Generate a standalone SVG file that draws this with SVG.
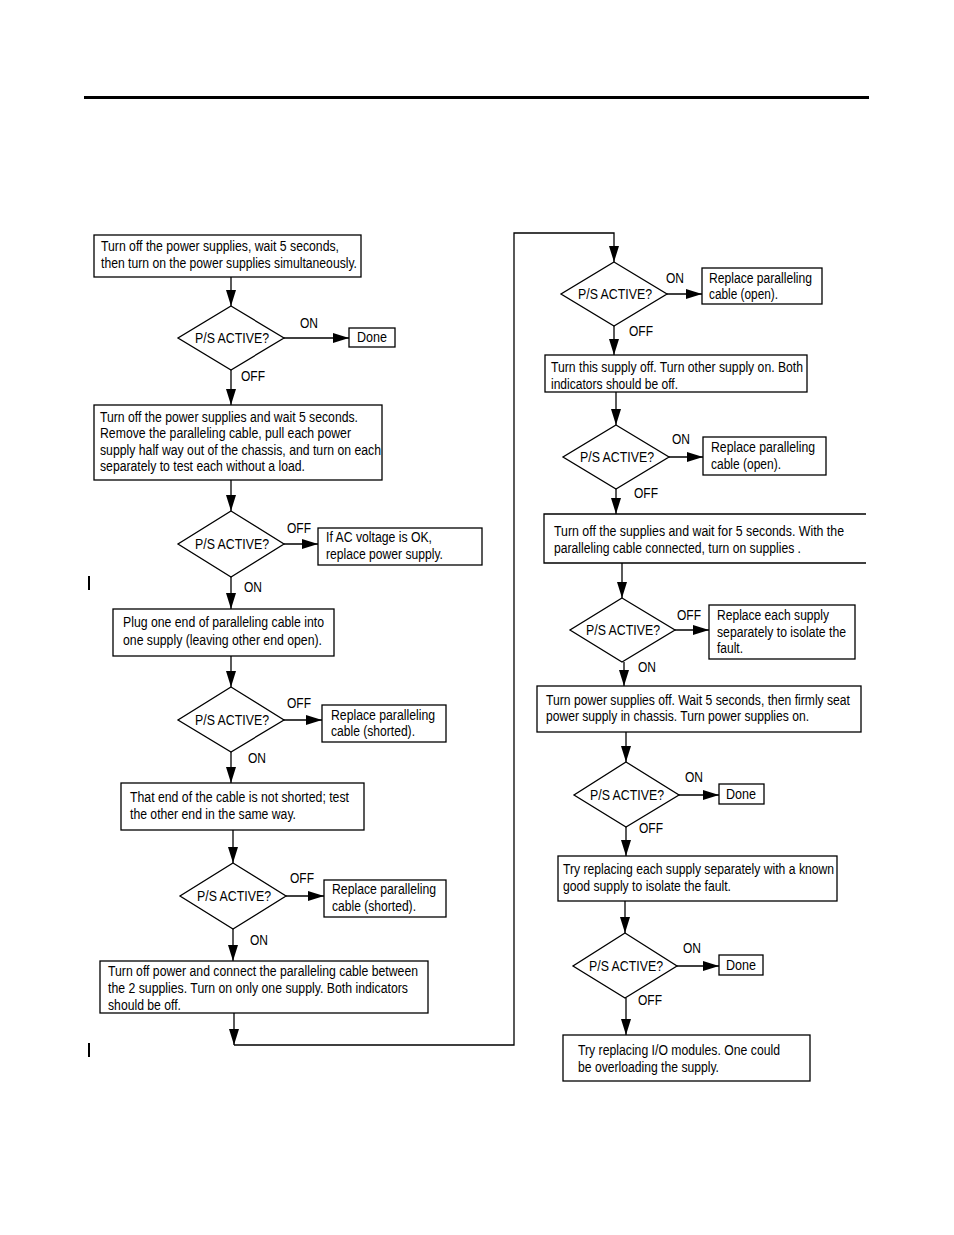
<svg xmlns="http://www.w3.org/2000/svg" width="954" height="1235" viewBox="0 0 954 1235">
<style>
.bx{fill:#fff;stroke:#000;stroke-width:1.3}
.dm{fill:#fff;stroke:#000;stroke-width:1.3}
.ln{fill:none;stroke:#000;stroke-width:1.3}
text{font-family:"Liberation Sans",Arial,sans-serif;font-size:14px;fill:#000}
.c{text-anchor:middle}
</style>
<defs>
<marker id="ah" markerUnits="userSpaceOnUse" markerWidth="16" markerHeight="10" refX="16" refY="5" orient="auto">
<path d="M0,0 L16,5 L0,10 z" fill="#000"/>
</marker>
</defs>
<rect x="84" y="96" width="785" height="3" fill="#000"/>
<rect x="88" y="576" width="2" height="14" fill="#000"/>
<rect x="88" y="1043" width="2" height="14" fill="#000"/>

<g id="connectors">
<path class="ln" d="M231,277 V306" marker-end="url(#ah)"/>
<path class="ln" d="M284,338 H349" marker-end="url(#ah)"/>
<path class="ln" d="M231,370 V405" marker-end="url(#ah)"/>
<path class="ln" d="M231,480 V511" marker-end="url(#ah)"/>
<path class="ln" d="M284,544 H318" marker-end="url(#ah)"/>
<path class="ln" d="M231,577 V609" marker-end="url(#ah)"/>
<path class="ln" d="M231,656 V687" marker-end="url(#ah)"/>
<path class="ln" d="M284,720 H322" marker-end="url(#ah)"/>
<path class="ln" d="M231,752 V783" marker-end="url(#ah)"/>
<path class="ln" d="M233,830 V863" marker-end="url(#ah)"/>
<path class="ln" d="M286,896 H324" marker-end="url(#ah)"/>
<path class="ln" d="M233,929 V961" marker-end="url(#ah)"/>
<path class="ln" d="M234,1013 V1045" marker-end="url(#ah)"/>
<path class="ln" d="M234,1045 H514 V233 H614 V262" marker-end="url(#ah)"/>
<path class="ln" d="M667,294 H702" marker-end="url(#ah)"/>
<path class="ln" d="M614,326 V355" marker-end="url(#ah)"/>
<path class="ln" d="M616,392 V425" marker-end="url(#ah)"/>
<path class="ln" d="M669,457 H703" marker-end="url(#ah)"/>
<path class="ln" d="M616,489 V514" marker-end="url(#ah)"/>
<path class="ln" d="M622,563 V598" marker-end="url(#ah)"/>
<path class="ln" d="M675,630 H709" marker-end="url(#ah)"/>
<path class="ln" d="M624,662 V686" marker-end="url(#ah)"/>
<path class="ln" d="M626,732 V762" marker-end="url(#ah)"/>
<path class="ln" d="M679,795 H719" marker-end="url(#ah)"/>
<path class="ln" d="M626,827 V856" marker-end="url(#ah)"/>
<path class="ln" d="M625,901 V933" marker-end="url(#ah)"/>
<path class="ln" d="M677,966 H719" marker-end="url(#ah)"/>
<path class="ln" d="M626,998 V1035" marker-end="url(#ah)"/>
<text x="300" y="328" textLength="18" lengthAdjust="spacingAndGlyphs">ON</text>
<text x="241" y="381" textLength="24" lengthAdjust="spacingAndGlyphs">OFF</text>
<text x="287" y="533" textLength="24" lengthAdjust="spacingAndGlyphs">OFF</text>
<text x="244" y="592" textLength="18" lengthAdjust="spacingAndGlyphs">ON</text>
<text x="287" y="708" textLength="24" lengthAdjust="spacingAndGlyphs">OFF</text>
<text x="248" y="763" textLength="18" lengthAdjust="spacingAndGlyphs">ON</text>
<text x="290" y="883" textLength="24" lengthAdjust="spacingAndGlyphs">OFF</text>
<text x="250" y="945" textLength="18" lengthAdjust="spacingAndGlyphs">ON</text>
<text x="666" y="283" textLength="18" lengthAdjust="spacingAndGlyphs">ON</text>
<text x="629" y="336" textLength="24" lengthAdjust="spacingAndGlyphs">OFF</text>
<text x="672" y="444" textLength="18" lengthAdjust="spacingAndGlyphs">ON</text>
<text x="634" y="498" textLength="24" lengthAdjust="spacingAndGlyphs">OFF</text>
<text x="677" y="620" textLength="24" lengthAdjust="spacingAndGlyphs">OFF</text>
<text x="638" y="672" textLength="18" lengthAdjust="spacingAndGlyphs">ON</text>
<text x="685" y="782" textLength="18" lengthAdjust="spacingAndGlyphs">ON</text>
<text x="639" y="833" textLength="24" lengthAdjust="spacingAndGlyphs">OFF</text>
<text x="683" y="953" textLength="18" lengthAdjust="spacingAndGlyphs">ON</text>
<text x="638" y="1005" textLength="24" lengthAdjust="spacingAndGlyphs">OFF</text>
</g>

<g id="start">
<rect class="bx" x="94" y="235" width="267" height="42"/>
<text x="101" y="251" textLength="238" lengthAdjust="spacingAndGlyphs">Turn off the power supplies, wait 5 seconds,</text>
<text x="101" y="268" textLength="256" lengthAdjust="spacingAndGlyphs">then turn on the power supplies simultaneously.</text>
</g>
<g id="d1">
<path class="dm" d="M231,306 L284,338 L231,370 L178,338 z"/>
<text class="c" x="232" y="343" textLength="74" lengthAdjust="spacingAndGlyphs">P/S ACTIVE?</text>
</g>
<g id="done1">
<rect class="bx" x="349" y="328" width="46" height="19"/>
<text class="c" x="372" y="342" textLength="30" lengthAdjust="spacingAndGlyphs">Done</text>
</g>
<g id="box2">
<rect class="bx" x="94" y="405" width="288" height="75"/>
<text x="100" y="422" textLength="258" lengthAdjust="spacingAndGlyphs">Turn off the power supplies and wait 5 seconds.</text>
<text x="100" y="438" textLength="251" lengthAdjust="spacingAndGlyphs">Remove the paralleling cable, pull each power</text>
<text x="100" y="455" textLength="281" lengthAdjust="spacingAndGlyphs">supply half way out of the chassis, and turn on each</text>
<text x="100" y="471" textLength="205" lengthAdjust="spacingAndGlyphs">separately to test each without a load.</text>
</g>
<g id="d2">
<path class="dm" d="M231,511 L284,544 L231,577 L178,544 z"/>
<text class="c" x="232" y="549" textLength="74" lengthAdjust="spacingAndGlyphs">P/S ACTIVE?</text>
</g>
<g id="acok">
<rect class="bx" x="318" y="528" width="164" height="37"/>
<text x="326" y="542" textLength="106" lengthAdjust="spacingAndGlyphs">If AC voltage is OK,</text>
<text x="326" y="559" textLength="117" lengthAdjust="spacingAndGlyphs">replace power supply.</text>
</g>
<g id="box3">
<rect class="bx" x="113" y="609" width="221" height="47"/>
<text x="123" y="627" textLength="201" lengthAdjust="spacingAndGlyphs">Plug one end of paralleling cable into</text>
<text x="123" y="645" textLength="199" lengthAdjust="spacingAndGlyphs">one supply (leaving other end open).</text>
</g>
<g id="d3">
<path class="dm" d="M231,687 L284,720 L231,752 L178,720 z"/>
<text class="c" x="232" y="725" textLength="74" lengthAdjust="spacingAndGlyphs">P/S ACTIVE?</text>
</g>
<g id="short1">
<rect class="bx" x="322" y="705" width="124" height="37"/>
<text x="331" y="720" textLength="104" lengthAdjust="spacingAndGlyphs">Replace paralleling</text>
<text x="331" y="736" textLength="84" lengthAdjust="spacingAndGlyphs">cable (shorted).</text>
</g>
<g id="box4">
<rect class="bx" x="121" y="783" width="243" height="47"/>
<text x="130" y="802" textLength="219" lengthAdjust="spacingAndGlyphs">That end of the cable is not shorted; test</text>
<text x="130" y="819" textLength="166" lengthAdjust="spacingAndGlyphs">the other end in the same way.</text>
</g>
<g id="d4">
<path class="dm" d="M233,863 L286,896 L233,929 L180,896 z"/>
<text class="c" x="234" y="901" textLength="74" lengthAdjust="spacingAndGlyphs">P/S ACTIVE?</text>
</g>
<g id="short2">
<rect class="bx" x="324" y="880" width="122" height="37"/>
<text x="332" y="894" textLength="104" lengthAdjust="spacingAndGlyphs">Replace paralleling</text>
<text x="332" y="911" textLength="84" lengthAdjust="spacingAndGlyphs">cable (shorted).</text>
</g>
<g id="box5">
<rect class="bx" x="100" y="961" width="328" height="52"/>
<text x="108" y="976" textLength="310" lengthAdjust="spacingAndGlyphs">Turn off power and connect the paralleling cable between</text>
<text x="108" y="993" textLength="300" lengthAdjust="spacingAndGlyphs">the 2 supplies. Turn on only one supply. Both indicators</text>
<text x="108" y="1010" textLength="73" lengthAdjust="spacingAndGlyphs">should be off.</text>
</g>

<g id="r1">
<path class="dm" d="M614,262 L667,294 L614,326 L561,294 z"/>
<text class="c" x="615" y="299" textLength="74" lengthAdjust="spacingAndGlyphs">P/S ACTIVE?</text>
</g>
<g id="open1">
<rect class="bx" x="702" y="268" width="120" height="36"/>
<text x="709" y="283" textLength="103" lengthAdjust="spacingAndGlyphs">Replace paralleling</text>
<text x="709" y="299" textLength="69" lengthAdjust="spacingAndGlyphs">cable (open).</text>
</g>
<g id="rbox2">
<rect class="bx" x="545" y="355" width="262" height="37"/>
<text x="551" y="372" textLength="252" lengthAdjust="spacingAndGlyphs">Turn this supply off. Turn other supply on. Both</text>
<text x="551" y="389" textLength="127" lengthAdjust="spacingAndGlyphs">indicators should be off.</text>
</g>
<g id="r2">
<path class="dm" d="M616,425 L669,457 L616,489 L563,457 z"/>
<text class="c" x="617" y="462" textLength="74" lengthAdjust="spacingAndGlyphs">P/S ACTIVE?</text>
</g>
<g id="open2">
<rect class="bx" x="703" y="437" width="123" height="38"/>
<text x="711" y="452" textLength="104" lengthAdjust="spacingAndGlyphs">Replace paralleling</text>
<text x="711" y="469" textLength="70" lengthAdjust="spacingAndGlyphs">cable (open).</text>
</g>
<g id="rbox3">
<path class="ln" d="M866,514 H544 V563 H866"/>
<text x="554" y="536" textLength="290" lengthAdjust="spacingAndGlyphs">Turn off the supplies and wait for 5 seconds.  With the</text>
<text x="554" y="553" textLength="247" lengthAdjust="spacingAndGlyphs">paralleling cable connected, turn on supplies .</text>
</g>
<g id="r3">
<path class="dm" d="M622,598 L675,630 L622,662 L570,630 z"/>
<text class="c" x="623" y="635" textLength="74" lengthAdjust="spacingAndGlyphs">P/S ACTIVE?</text>
</g>
<g id="eachsupply">
<rect class="bx" x="709" y="605" width="146" height="54"/>
<text x="717" y="620" textLength="112" lengthAdjust="spacingAndGlyphs">Replace each supply</text>
<text x="717" y="637" textLength="129" lengthAdjust="spacingAndGlyphs">separately to isolate the</text>
<text x="717" y="653" textLength="26" lengthAdjust="spacingAndGlyphs">fault.</text>
</g>
<g id="rbox4">
<rect class="bx" x="537" y="686" width="324" height="46"/>
<text x="546" y="705" textLength="304" lengthAdjust="spacingAndGlyphs">Turn power supplies off. Wait 5 seconds, then firmly seat</text>
<text x="546" y="721" textLength="263" lengthAdjust="spacingAndGlyphs">power supply in chassis. Turn power supplies on.</text>
</g>
<g id="r4">
<path class="dm" d="M626,762 L679,795 L626,827 L574,795 z"/>
<text class="c" x="627" y="800" textLength="74" lengthAdjust="spacingAndGlyphs">P/S ACTIVE?</text>
</g>
<g id="done2">
<rect class="bx" x="719" y="784" width="45" height="20"/>
<text class="c" x="741" y="799" textLength="30" lengthAdjust="spacingAndGlyphs">Done</text>
</g>
<g id="rbox5">
<rect class="bx" x="558" y="856" width="279" height="45"/>
<text x="563" y="874" textLength="271" lengthAdjust="spacingAndGlyphs">Try replacing each supply separately with a known</text>
<text x="563" y="891" textLength="168" lengthAdjust="spacingAndGlyphs">good supply to isolate the fault.</text>
</g>
<g id="r5">
<path class="dm" d="M625,933 L677,966 L625,998 L573,966 z"/>
<text class="c" x="626" y="971" textLength="74" lengthAdjust="spacingAndGlyphs">P/S ACTIVE?</text>
</g>
<g id="done3">
<rect class="bx" x="719" y="955" width="44" height="20"/>
<text class="c" x="741" y="970" textLength="30" lengthAdjust="spacingAndGlyphs">Done</text>
</g>
<g id="rbox6">
<rect class="bx" x="563" y="1035" width="247" height="46"/>
<text x="578" y="1055" textLength="202" lengthAdjust="spacingAndGlyphs">Try replacing I/O modules. One could</text>
<text x="578" y="1072" textLength="141" lengthAdjust="spacingAndGlyphs">be overloading the supply.</text>
</g>
</svg>
